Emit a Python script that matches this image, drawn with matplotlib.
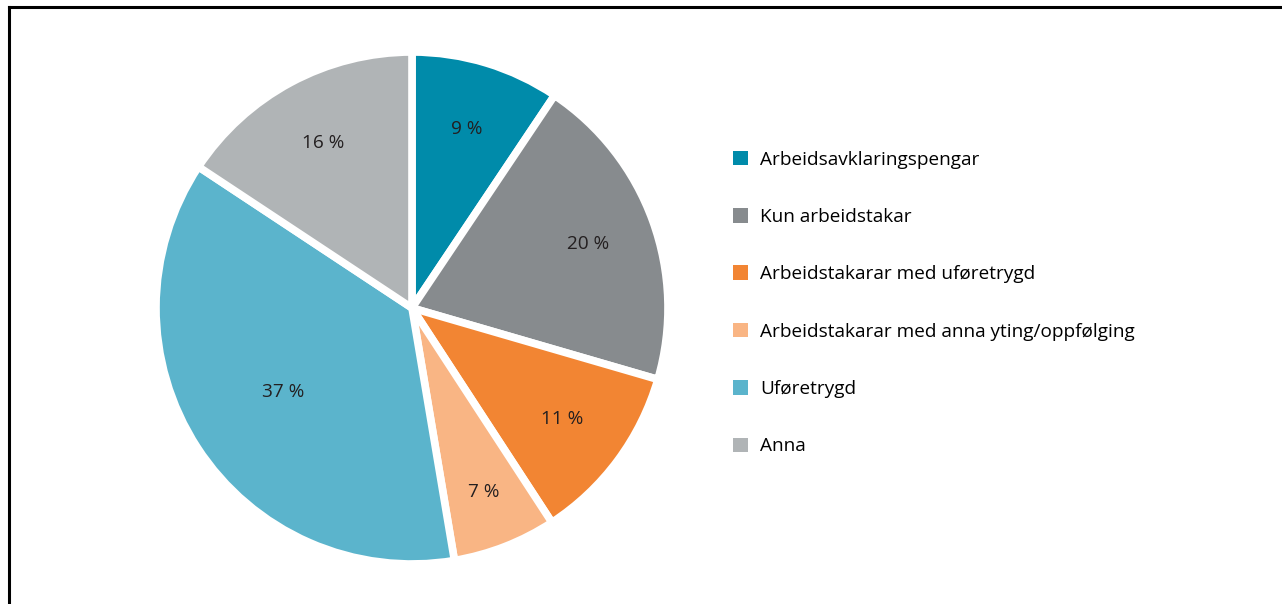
import matplotlib.pyplot as plt
from matplotlib.patches import Patch
from matplotlib.lines import Line2D

plt.rcParams['font.family'] = ['Open Sans', 'DejaVu Sans']

categories = ['Arbeidsavklaringspengar', 'Kun arbeidstakar',
              'Arbeidstakarar med uføretrygd',
              'Arbeidstakarar med anna yting/oppfølging',
              'Uføretrygd', 'Anna']
shares = [9.4, 20.1, 11.3, 6.55, 36.95, 15.7]
colors = ['#008BAA', '#878B8E', '#F28533', '#F9B584', '#5BB4CC', '#B0B4B6']

W, H = 1282, 604
fig = plt.figure(figsize=(W / 100, H / 100), dpi=100)

# pie centre ~ (412, 308) px, radius ~ 256 px (white edge eats a bit)
cx, cy, r = 412, 308, 256
ax = fig.add_axes([(cx - r) / W, (H - cy - r) / H, 2 * r / W, 2 * r / H])

wedges, texts, autotexts = ax.pie(
    shares, colors=colors, startangle=90, counterclock=False,
    autopct=lambda p: f'{p:.0f} %', pctdistance=0.73,
    wedgeprops=dict(edgecolor='white', linewidth=5.5),
    textprops=dict(fontsize=13.7, color='#231F20'))
# the large slice has its label nearer the centre
x, y = autotexts[4].get_position()
autotexts[4].set_position((x * 0.6 / 0.73, y * 0.6 / 0.73))
x, y = autotexts[3].get_position()
autotexts[3].set_position((x * 0.77 / 0.73, y * 0.77 / 0.73))
ax.set_xlim(-1, 1)
ax.set_ylim(-1, 1)
ax.set_aspect('equal')

handles = [Patch(facecolor=c, edgecolor='none') for c in colors]
fig.legend(handles, categories, loc='upper left',
           bbox_to_anchor=(723 / W, 1 - 141 / H), frameon=False,
           fontsize=13.7, handlelength=0.79, handleheight=0.79,
           handletextpad=0.65, labelspacing=2.07, borderpad=0)

# frame lines at top and left
fig.add_artist(Line2D([8.5 / W, 1], [1 - 6.5 / H, 1 - 6.5 / H],
                      color='black', linewidth=2.2))
fig.add_artist(Line2D([8.5 / W, 8.5 / W], [0, 1 - 6.5 / H],
                      color='black', linewidth=2.2))

fig.savefig('out.png', dpi=100)
